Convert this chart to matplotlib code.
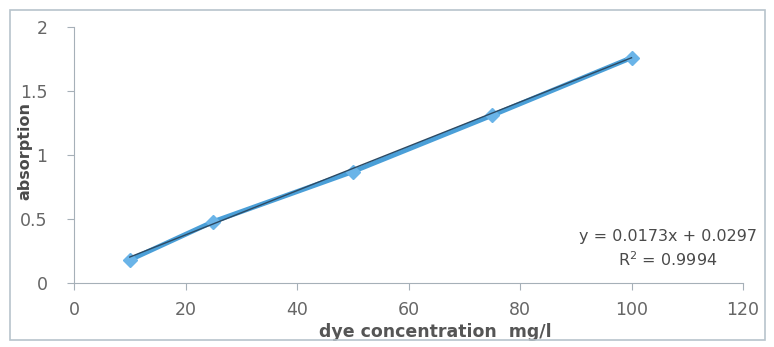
import numpy as np
import matplotlib
matplotlib.use('Agg')
import matplotlib.pyplot as plt
from matplotlib.patches import Rectangle

# Calibration data
concentration = [10, 25, 50, 75, 100]
absorption = [0.18, 0.48, 0.87, 1.31, 1.76]
slope, intercept = 0.0173, 0.0297
eq_text = 'y = 0.0173x + 0.0297'
r2_text = 'R$^2$ = 0.9994'

plt.rcParams['font.family'] = ['DejaVu Sans']

fig = plt.figure(figsize=(7.74, 3.47), dpi=100)
ax = fig.add_axes([0.0956, 0.1844, 0.8644, 0.7378])

# outer chart border
fig.patches.append(Rectangle((0.013, 0.02), 0.975, 0.95, transform=fig.transFigure,
                             fill=False, edgecolor='#b8c4cc', linewidth=1.2))

ax.plot(concentration, absorption, color='#4a9fd8', linewidth=3.5,
        marker='D', markersize=7, markerfacecolor='#6ab4e8', markeredgecolor='#6ab4e8', zorder=2)
xfit = np.array([concentration[0], concentration[-1]])
ax.plot(xfit, slope * xfit + intercept, color='#2d4a63', linewidth=1.0, zorder=3)

ax.set_xlim(0, 120)
ax.set_ylim(0, 2)
ax.set_xticks(range(0, 121, 20))
ax.set_yticks([0, 0.5, 1, 1.5, 2])
ax.set_yticklabels(['0', '0.5', '1', '1.5', '2'])

for s in ['top', 'right']:
    ax.spines[s].set_visible(False)
for s in ['left', 'bottom']:
    ax.spines[s].set_color('#a6b0b8')
ax.tick_params(colors='#a6b0b8', labelcolor='#666666', labelsize=12.5, length=5)
ax.tick_params(axis='x', pad=8)
ax.tick_params(axis='y', pad=14)

ax.set_xlabel('dye concentration  mg/l', fontsize=12.5, fontweight='bold', color='#555555')
ax.xaxis.set_label_coords(0.54, -0.155)
ax.set_ylabel('absorption', fontsize=11.5, fontweight='bold', color='#4a4a4a')
ax.yaxis.set_label_coords(-0.062, 0.516)

ax.text(0.888, 0.18, eq_text, transform=ax.transAxes, ha='center', va='center', fontsize=11.5, color='#4a4a4a')
ax.text(0.888, 0.09, r2_text, transform=ax.transAxes, ha='center', va='center', fontsize=11.5, color='#4a4a4a')

fig.savefig('out.png', dpi=100)
